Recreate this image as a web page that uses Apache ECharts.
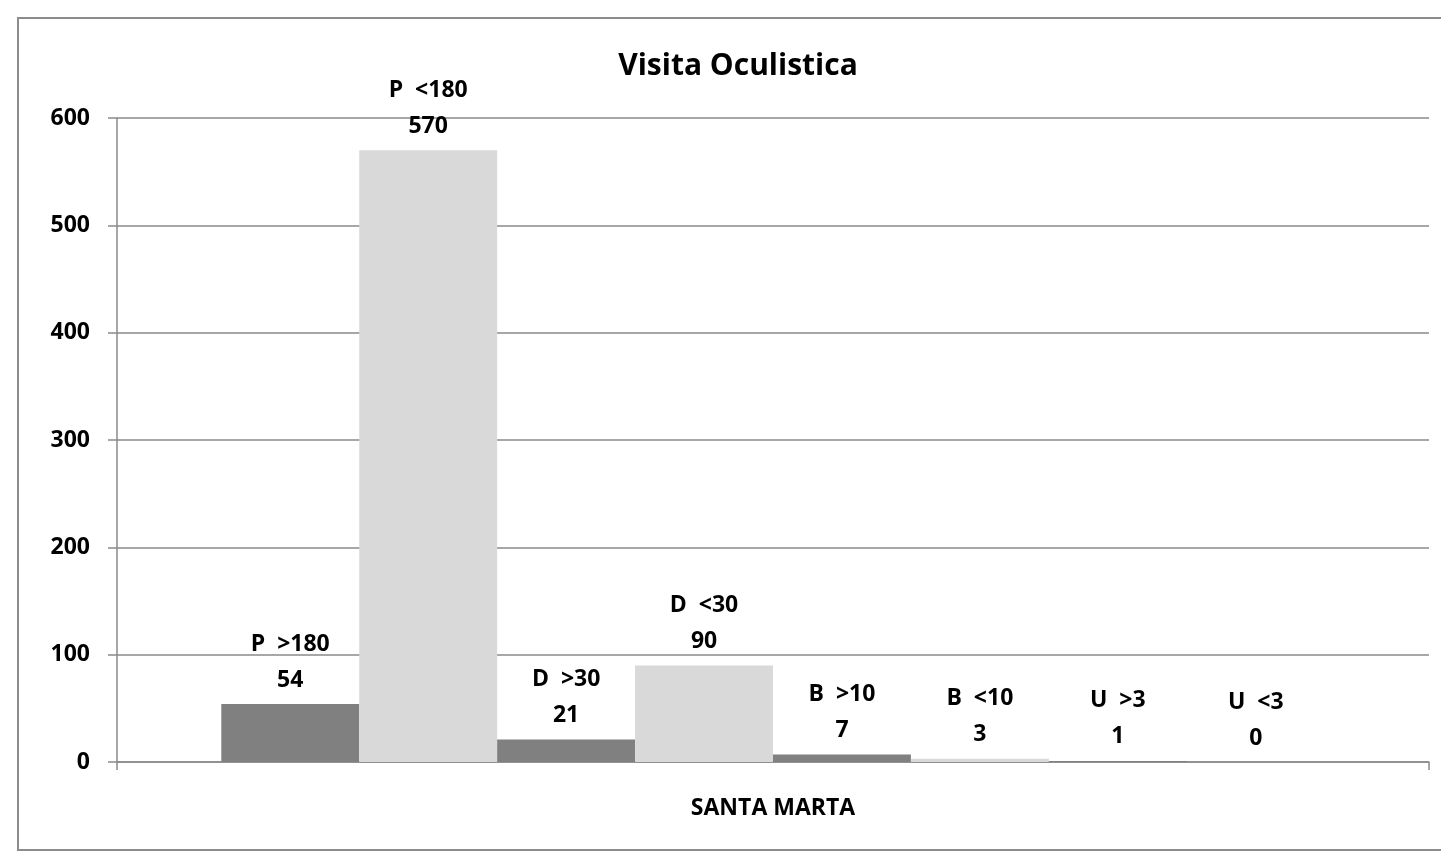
<!DOCTYPE html>
<html>
<head>
<meta charset="utf-8">
<script src="https://cdn.jsdelivr.net/npm/echarts@6/dist/echarts.min.js"></script>
<style>
  html, body { margin: 0; padding: 0; background: #fff; }
  #main { width: 1441px; height: 851px; }
</style>
</head>
<body>
<div id="main"></div>
<script>
// dati
var categories = ['SANTA MARTA'];
var seriesNames = ['P  >180', 'P  <180', 'D  >30', 'D  <30', 'B  >10', 'B  <10', 'U  >3', 'U  <3'];
var seriesValues = [54, 570, 21, 90, 7, 3, 1, 0];
var seriesColors = ['#808080', '#d9d9d9', '#808080', '#d9d9d9', '#808080', '#d9d9d9', '#808080', '#d9d9d9'];
var yTicks = [0, 100, 200, 300, 400, 500, 600];

var font = '"Open Sans", "Liberation Sans", sans-serif';
var lineColor = '#8a8a8a';

var myChart = echarts.init(document.getElementById('main'));

var series = [];
for (var i = 0; i < seriesNames.length; i++) {
    series.push({
        name: seriesNames[i],
        type: 'bar',
        data: [seriesValues[i]],
        barGap: '0%',
        barCategoryGap: '15.9%',
        itemStyle: { color: seriesColors[i] },
        label: {
            show: true,
            position: 'top',
            distance: 6,
            formatter: '{a}\n{c}',
            fontFamily: font,
            fontWeight: 'bold',
            fontSize: 23,
            lineHeight: 36,
            color: '#000'
        }
    });
}

var option = {
    backgroundColor: '#fff',
    animation: false,
    title: {
        text: 'Visita Oculistica',
        left: 738,
        textAlign: 'center',
        top: 51,
        padding: 0,
        textStyle: { fontFamily: font, fontWeight: 'bold', fontSize: 30, color: '#000' }
    },
    graphic: [{
        type: 'rect',
        shape: { x: 18, y: 18, width: 1500, height: 832 },
        style: { fill: 'none', stroke: '#8c8c8c', lineWidth: 2 },
        silent: true
    }],
    grid: { left: 117, right: 12, top: 118, bottom: 89, containLabel: false },
    xAxis: {
        type: 'category',
        data: categories,
        axisLine: { lineStyle: { color: lineColor, width: 1.5 } },
        axisTick: { show: true, length: 8, lineStyle: { color: lineColor, width: 1.5 } },
        axisLabel: { margin: 35, fontFamily: font, fontWeight: 'bold', fontSize: 23, color: '#000' }
    },
    yAxis: {
        type: 'value',
        min: yTicks[0],
        max: yTicks[yTicks.length - 1],
        interval: 100,
        axisLine: { show: true, lineStyle: { color: lineColor, width: 1.5 } },
        axisTick: { show: true, length: 9, lineStyle: { color: lineColor, width: 1.5 } },
        splitLine: { show: true, lineStyle: { color: lineColor, width: 1.5 } },
        axisLabel: { margin: 27, fontFamily: font, fontWeight: 'bold', fontSize: 23, color: '#000' }
    },
    series: series
};

myChart.setOption(option);
</script>
</body>
</html>
